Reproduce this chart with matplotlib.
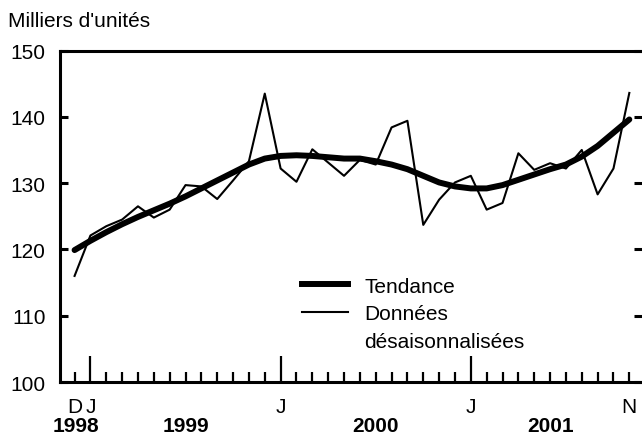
import numpy as np
import matplotlib
matplotlib.use("Agg")
import matplotlib.pyplot as plt
from matplotlib.lines import Line2D

plt.rcParams['font.family'] = ['Liberation Sans', 'DejaVu Sans']

# mois de déc. 1998 à nov. 2001 (0 = décembre 1998)
mois = np.arange(36)

donnees = [116.0, 122.1, 123.5, 124.5, 126.5, 124.8, 126.0, 129.7, 129.5, 127.6,
           130.4, 133.3, 143.5, 132.2, 130.2, 135.1, 133.1, 131.1, 133.5, 132.8,
           138.4, 139.4, 123.7, 127.5, 130.1, 131.1, 126.0, 127.0, 134.5, 132.0,
           133.0, 132.2, 135.0, 128.3, 132.2, 143.6]

tendance = [119.9, 121.3, 122.6, 123.8, 124.9, 125.9, 126.9, 128.0, 129.2, 130.4,
            131.6, 132.8, 133.7, 134.1, 134.2, 134.1, 133.9, 133.7, 133.7, 133.3,
            132.8, 132.1, 131.1, 130.1, 129.5, 129.2, 129.2, 129.7, 130.5, 131.3,
            132.1, 132.8, 134.0, 135.6, 137.6, 139.6]

mois_lettres = {0: 'D', 1: 'J', 13: 'J', 25: 'J', 35: 'N'}
annees = {0.1: '1998', 7.0: '1999', 19.0: '2000', 30.0: '2001'}
janviers = [1, 13, 25]

fs = 15

fig = plt.figure(figsize=(6.42, 4.35), dpi=100)
ax = fig.add_axes([0.0927, 0.1195, 0.9073, 0.7621])

ax.plot(mois, tendance, color='black', lw=4.3, solid_capstyle='round', label='Tendance')
ax.plot(mois, donnees, color='black', lw=1.5, label='Données')

ax.set_xlim(-0.95, 35.8)
ax.set_ylim(100, 150)

for s in ['left', 'top', 'bottom']:
    ax.spines[s].set_linewidth(2.2)
ax.spines['right'].set_visible(False)

ax.set_yticks(np.arange(100, 151, 10))
ax.tick_params(axis='y', direction='in', length=6, width=2.2, left=True, right=True,
               labelsize=fs, pad=10)

ax.set_xticks(janviers)
ax.set_xticks(mois, minor=True)
ax.set_xticklabels([])
ax.tick_params(axis='x', which='major', direction='in', length=18.7, width=1.6)
ax.tick_params(axis='x', which='minor', direction='in', length=7.2, width=1.6)

tr = ax.get_xaxis_transform()
for x, t in mois_lettres.items():
    ax.text(x, -0.0913, t, transform=tr, ha='center', va='baseline', fontsize=fs)
for x, t in annees.items():
    ax.text(x, -0.149, t, transform=tr, ha='center', va='baseline', fontsize=fs,
            fontweight='bold')

fig.text(8 / 642, 1 - 26.7 / 435, "Milliers d'unités", ha='left', va='baseline', fontsize=fs)

handles = [Line2D([], [], color='black', lw=4.3),
           Line2D([], [], color='black', lw=1.5),
           Line2D([], [], color='none')]
labels = ['Tendance', 'Données', 'désaisonnalisées']
ax.legend(handles, labels, loc='upper left', bbox_to_anchor=(0.4163, 0.318),
          frameon=False, fontsize=fs, borderpad=0, borderaxespad=0,
          handlelength=2.2, handletextpad=0.8, labelspacing=0.42)

fig.savefig('out.png', dpi=100)
